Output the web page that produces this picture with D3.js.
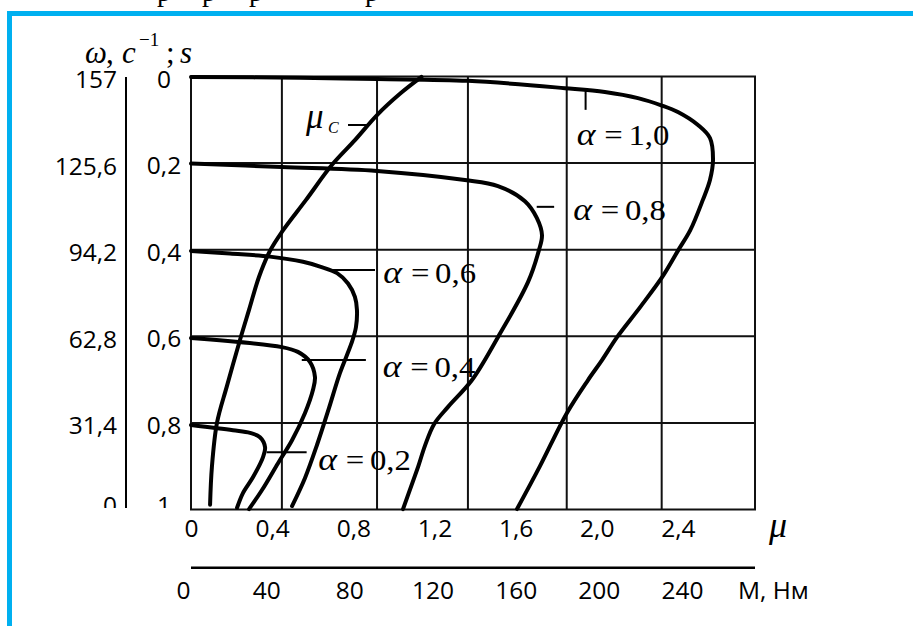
<!DOCTYPE html>
<html>
<head>
<meta charset="utf-8">
<script src="https://cdn.jsdelivr.net/npm/d3@7/dist/d3.min.js"></script>
<style>
body { margin: 0; background: #fff; }
svg { display: block; }
.lbl { font-family: "Open Sans", sans-serif; font-size: 24.5px; fill: #000; }
.math { font-family: "Liberation Serif", "Times New Roman", serif; fill: #000; }
</style>
</head>
<body>
<div id="chart"></div>
<script>
// ticks and labels
var s_ticks = [0, 0.2, 0.4, 0.6, 0.8, 1];
var s_labels = ["0", "0,2", "0,4", "0,6", "0,8", "1"];
var w_ticks = [157, 125.6, 94.2, 62.8, 31.4, 0];
var mu_ticks = [0, 0.4, 0.8, 1.2, 1.6, 2.0, 2.4];
var m_ticks = [0, 40, 80, 120, 160, 200, 240];
var grid_mu = [0.448, 0.917, 1.365, 1.852, 2.32];
var grid_s = [0.2, 0.4, 0.6, 0.8];

// curves, [mu, s]
var curve_a10 = [[0, 0.001], [0.537, 0.003], [0.917, 0.006], [1.365, 0.010], [1.843, 0.027],
  [2.040, 0.036], [2.203, 0.050], [2.321, 0.067], [2.400, 0.082], [2.499, 0.112],
  [2.558, 0.142], [2.573, 0.193], [2.558, 0.239], [2.523, 0.285], [2.461, 0.355],
  [2.402, 0.401], [2.323, 0.463], [2.215, 0.532], [2.100, 0.602], [2.026, 0.655],
  [1.957, 0.701], [1.853, 0.777], [1.720, 0.900], [1.607, 0.999]];
var curve_a08 = [[0, 0.201], [0.448, 0.209], [0.917, 0.218], [1.350, 0.239], [1.513, 0.253],
  [1.646, 0.288], [1.705, 0.327], [1.730, 0.366], [1.715, 0.401], [1.661, 0.475],
  [1.513, 0.602], [1.385, 0.701], [1.267, 0.763], [1.198, 0.803], [1.153, 0.853],
  [1.119, 0.902], [1.045, 0.999]];
var curve_a06 = [[0, 0.403], [0.192, 0.409], [0.389, 0.416], [0.552, 0.428], [0.636, 0.439],
  [0.720, 0.454], [0.774, 0.478], [0.808, 0.509], [0.818, 0.539], [0.813, 0.579],
  [0.791, 0.616], [0.734, 0.685], [0.680, 0.766], [0.621, 0.851], [0.562, 0.927], [0.498, 0.992]];
var curve_a04 = [[0, 0.604], [0.448, 0.625], [0.527, 0.636], [0.586, 0.659], [0.611, 0.694],
  [0.601, 0.724], [0.562, 0.777], [0.498, 0.840], [0.429, 0.893], [0.350, 0.955], [0.286, 0.999]];
var curve_a02 = [[0, 0.805], [0.207, 0.817], [0.291, 0.823], [0.340, 0.833], [0.365, 0.856],
  [0.355, 0.879], [0.306, 0.925], [0.256, 0.962], [0.227, 0.996]];
var curve_muc = [[1.136, 0.001], [1.030, 0.040], [0.917, 0.089], [0.808, 0.147], [0.695, 0.204],
  [0.567, 0.285], [0.448, 0.359], [0.389, 0.403], [0.335, 0.463], [0.286, 0.539],
  [0.241, 0.609], [0.177, 0.715], [0.128, 0.800], [0.103, 0.902], [0.094, 0.989]];

var alpha_names = ["1,0", "0,8", "0,6", "0,4", "0,2"];

// where the labels and their leaders sit (mu, s)
var alpha_layout = [
  { lx: 1.901, ly: 0.158, lead: [[1.945, 0.031], [1.945, 0.077]] },
  { lx: 1.884, ly: 0.331, lead: [[1.704, 0.301], [1.790, 0.301]] },
  { lx: 0.948, ly: 0.478, lead: [[0.693, 0.447], [0.907, 0.447]] },
  { lx: 0.945, ly: 0.693, lead: [[0.546, 0.655], [0.862, 0.655]] },
  { lx: 0.627, ly: 0.909, lead: [[0.373, 0.868], [0.570, 0.868]] }
];

var svgWidth = 913;
var svgHeight = 626;

var svg = d3.select("#chart").append("svg")
  .attr("width", svgWidth)
  .attr("height", svgHeight);

var x = d3.scaleLinear().domain([0, 2.78]).range([191, 755]);
var y = d3.scaleLinear().domain([0, 1]).range([76.5, 509.5]);
var y_w = d3.scaleLinear().domain([157, 0]).range([76.5, 509.5]);
var x_m = d3.scaleLinear().domain([0, 240]).range([183, 682]);

var comma = d => String(d).replace(".", ",");

// blue frame
svg.append("path")
  .attr("d", "M9.5,626V13.5H913")
  .attr("fill", "none")
  .attr("stroke", "#00b0f0")
  .attr("stroke-width", 5);

// cut off caption line above the frame
svg.selectAll(".cut")
  .data([157, 202, 249, 365])
  .enter()
  .append("text")
  .attr("class", "math")
  .attr("x", d => d)
  .attr("y", 1)
  .attr("font-size", 28)
  .text("р");

// grid
var grid = svg.append("g").attr("stroke", "#111").attr("stroke-width", 2);
grid.selectAll(".gx")
  .data(grid_mu)
  .enter()
  .append("line")
  .attr("x1", d => x(d)).attr("x2", d => x(d))
  .attr("y1", y(0)).attr("y2", y(1));
grid.selectAll(".gy")
  .data(grid_s)
  .enter()
  .append("line")
  .attr("x1", x(0)).attr("x2", x(2.78))
  .attr("y1", d => y(d)).attr("y2", d => y(d));
grid.append("rect")
  .attr("x", x(0)).attr("y", y(0))
  .attr("width", x(2.78) - x(0))
  .attr("height", y(1) - y(0))
  .attr("fill", "none");

// left labels, clipped at the bottom like the original
svg.append("clipPath").attr("id", "leftclip")
  .append("rect").attr("x", 0).attr("y", 0).attr("width", 190).attr("height", 508);

var left = svg.append("g").attr("clip-path", "url(#leftclip)");

var w_axis = left.append("g")
  .attr("transform", "translate(126,0)")
  .call(d3.axisLeft(y_w).tickValues(w_ticks).tickFormat(comma).tickSize(0).tickPadding(9));
w_axis.attr("font-family", null).attr("font-size", null);
w_axis.select(".domain").attr("stroke", "#000").attr("stroke-width", 2)
  .attr("d", `M0,${y(0) + 0.5}V${y(1) - 1.5}`);
w_axis.selectAll("text")
  .attr("class", "lbl")
  .attr("dy", (d, i) => i == w_ticks.length - 1 ? 4 : 11);

left.selectAll(".slbl")
  .data(s_ticks)
  .enter()
  .append("text")
  .attr("class", "lbl")
  .attr("text-anchor", "middle")
  .attr("x", 164)
  .attr("y", d => y(d))
  .attr("dy", (d, i) => i == s_ticks.length - 1 ? 4 : 11)
  .text((d, i) => s_labels[i]);

// axis title omega, c^-1; s
var title = svg.append("text").attr("class", "math").attr("font-size", 31).attr("y", 63);
title.append("tspan").attr("x", 85).attr("font-style", "italic").text("ω");
title.append("tspan").attr("x", 106).text(",");
title.append("tspan").attr("x", 122).attr("font-style", "italic").text("c");
title.append("tspan").attr("x", 139).attr("y", 46).attr("font-size", 19).text("−1");
title.append("tspan").attr("x", 166).attr("y", 63).text(";");
title.append("tspan").attr("x", 180).attr("font-style", "italic").text("s");

// mu axis
var mu_axis = svg.append("g")
  .attr("transform", `translate(0,${y(1)})`)
  .call(d3.axisBottom(x).tickValues(mu_ticks)
    .tickFormat(d => d == 0 ? "0" : comma(d3.format(".1f")(d)))
    .tickSize(0).tickPadding(10));
mu_axis.attr("font-family", null).attr("font-size", null);
mu_axis.select(".domain").remove();
mu_axis.selectAll("text").attr("class", "lbl");

svg.append("text")
  .attr("class", "math")
  .attr("x", 769)
  .attr("y", 537)
  .attr("font-size", 36)
  .attr("font-style", "italic")
  .text("μ");

// torque axis
var m_axis = svg.append("g")
  .attr("transform", "translate(0,567.7)")
  .call(d3.axisBottom(x_m).tickValues(m_ticks).tickSize(0).tickSizeOuter(0).tickPadding(14));
m_axis.attr("font-family", null).attr("font-size", null);
m_axis.select(".domain")
  .attr("stroke", "#000")
  .attr("stroke-width", 2.5)
  .attr("d", `M${x(0)},0H${x(2.78)}`);
m_axis.selectAll("text").attr("class", "lbl");

svg.append("text")
  .attr("class", "lbl")
  .attr("x", 738)
  .attr("y", 599)
  .text("М, Нм");

// curves
var line = d3.line()
  .x(d => x(d[0]))
  .y(d => y(d[1]))
  .curve(d3.curveCatmullRom.alpha(0.5));

var curves = [curve_a10, curve_a08, curve_a06, curve_a04, curve_a02, curve_muc];

svg.append("g")
  .selectAll("path")
  .data(curves)
  .enter()
  .append("path")
  .attr("d", line)
  .attr("fill", "none")
  .attr("stroke", "#000")
  .attr("stroke-width", 4)
  .attr("stroke-linecap", "round")
  .attr("stroke-linejoin", "round");

// leaders
var leader = d3.line().x(d => x(d[0])).y(d => y(d[1]));
svg.append("g")
  .selectAll("path")
  .data(alpha_layout.map(d => d.lead).concat([[[0.774, 0.112], [0.872, 0.112]]]))
  .enter()
  .append("path")
  .attr("d", leader)
  .attr("stroke", "#000")
  .attr("stroke-width", 2);

// alpha labels
alpha_layout.forEach(function (a, i) {
  var g = svg.append("g")
    .attr("transform", `translate(${x(a.lx)},${y(a.ly)}) scale(1.15,1)`);
  var t = g.append("text").attr("class", "math").attr("font-size", 28.5);
  t.append("tspan").attr("x", 0).attr("font-style", "italic").attr("font-size", 31).text("α");
  t.append("tspan").attr("x", 24).text("=");
  t.append("tspan").attr("x", 45).text(alpha_names[i]);
});

// mu_c label
var muc = svg.append("text").attr("class", "math").attr("font-style", "italic");
muc.append("tspan").attr("x", 306).attr("y", 128).attr("font-size", 35).text("μ");
muc.append("tspan").attr("x", 328).attr("y", 133).attr("font-size", 16).text("C");
</script>
</body>
</html>
